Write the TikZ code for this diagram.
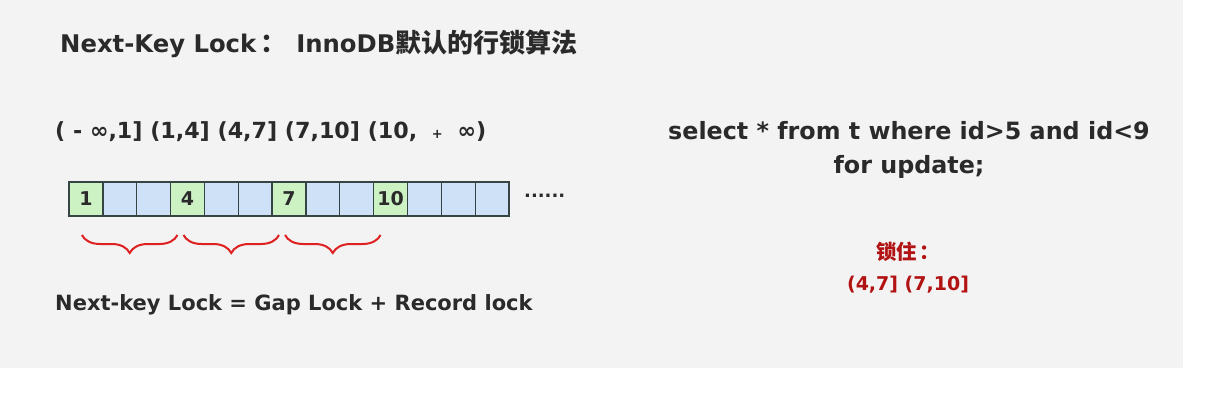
\documentclass[tikz,border=0pt]{standalone}
\usepackage{fontspec}
\setmainfont{DejaVu Sans}
\newfontfamily\cjk{Noto Sans CJK SC}[Scale=1.07]
\usepackage{tikz}
\usetikzlibrary{positioning, decorations.pathreplacing}
\definecolor{bggray}{RGB}{243,243,243}
\definecolor{textdark}{RGB}{42,42,42}
\definecolor{keygreen}{RGB}{204,242,196}
\definecolor{gapblue}{RGB}{206,225,246}
\definecolor{cellline}{RGB}{55,68,68}
\definecolor{bracered}{RGB}{222,32,32}
\definecolor{lockred}{RGB}{178,18,18}

\begin{document}
\begin{tikzpicture}[
  x=1pt, y=-1pt,
  node distance=0pt,
  txt/.style={inner sep=0pt, text=textdark, font=\fontsize{21}{25}\selectfont\bfseries},
  gap/.style={draw=cellline, line width=1.3pt, fill=gapblue, outer sep=0pt,
              minimum width=33.85pt, minimum height=34pt, inner sep=0pt,
              text=textdark, font=\fontsize{19}{22}\selectfont\bfseries},
  key/.style={gap, fill=keygreen},
  brc/.style={decorate, decoration={brace, amplitude=18pt, mirror}, line width=2pt, bracered}
]
\useasboundingbox (0,0) rectangle (1230,403);
\fill[bggray] (0,0) rectangle (1183,368);

% title
\node[txt, anchor=west, font=\fontsize{24.3}{28}\selectfont\bfseries] (title) at (60,44)
  {Next-Key Lock\hspace{4pt}{\cjk ：}\hspace{10pt}InnoDB{\cjk 默认的行锁算法}};

% intervals
\node[txt, anchor=west, font=\fontsize{22.2}{26}\selectfont\bfseries] (ranges) at (55,132)
  {( - ∞,1] (1,4] (4,7] (7,10] (10, \hspace{7pt}{\fontsize{13}{15}\selectfont+}\hspace{7pt} ∞)};

% index row
\node[key, anchor=west] (c1) at (69,199) {1};
\node[gap, right=of c1] (c2) {};
\node[gap, right=of c2] (c3) {};
\node[key, right=of c3] (c4) {4};
\node[gap, right=of c4] (c5) {};
\node[gap, right=of c5] (c6) {};
\node[key, right=of c6] (c7) {7};
\node[gap, right=of c7] (c8) {};
\node[gap, right=of c8] (c9) {};
\node[key, right=of c9] (c10) {10};
\node[gap, right=of c10] (c11) {};
\node[gap, right=of c11] (c12) {};
\node[gap, right=of c12] (c13) {};
\node[txt, anchor=base west, font=\fontsize{18}{20}\selectfont\bfseries] (more) at (524,198) {......};

% gaps
\draw[brc] ([xshift=-4pt, yshift=-19pt]c1.south) -- ([xshift=-10pt, yshift=-19pt]c4.south);
\draw[brc] ([xshift=-4pt, yshift=-19pt]c4.south) -- ([xshift=-10pt, yshift=-19pt]c7.south);
\draw[brc] ([xshift=-4pt, yshift=-19pt]c7.south) -- ([xshift=-10pt, yshift=-19pt]c10.south);

\node[txt, anchor=west] (formula) at (55,305) {Next-key Lock = Gap Lock + Record lock};

% query
\node[txt, align=center, font=\fontsize{23.8}{34}\selectfont\bfseries] (query) at (909,150)
  {select * from t where id>5 and id<9\\for update;};
\node[txt, align=center, text=lockred, font=\fontsize{19}{31}\selectfont\bfseries] (locked) at (908,268)
  {{\cjk 锁住}\hspace{3pt}{\cjk ：}\\(4,7] (7,10]};
\end{tikzpicture}
\end{document}
